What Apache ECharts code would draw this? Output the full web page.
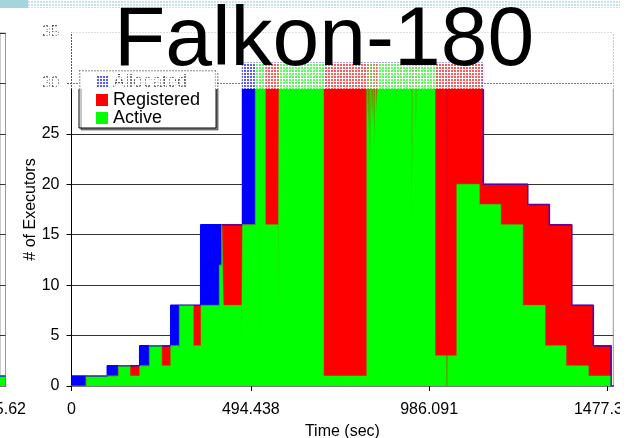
<!DOCTYPE html>
<html>
<head>
<meta charset="utf-8">
<script src="https://cdn.jsdelivr.net/npm/echarts@6/dist/echarts.min.js"></script>
<style>
html, body { margin: 0; padding: 0; background: #fff; }
#main { width: 639px; height: 438px; }
</style>
</head>
<body>
<div id="main"></div>
<script>
// executors over time, step data: [time (sec), # of executors]
const allocated = [
  [0, 1], [98.7, 2], [188, 4], [273.6, 8], [356.3, 16], [471.6, 32],
  [1135.7, 20], [1258, 18], [1317.8, 16], [1379.5, 8], [1439, 4], [1488, 0], [1494, 0]
];
const registered = [
  [0, 0], [40, 1], [129, 2], [214.6, 4], [297.3, 8], [407.6, 12], [414.3, 16],
  [506.9, 32], [1035, 0], [1036.5, 32],
  [1135.7, 20], [1258, 18], [1317.8, 16], [1379.5, 8], [1439, 4], [1488, 0], [1494, 0]
];
const active = [
  [0, 0], [40, 1], [129, 2], [161.3, 1], [188.1, 2], [214.6, 4], [248.8, 2], [273.6, 4],
  [297.3, 8], [335.9, 4], [357, 8], [407.6, 12], [414.3, 16], [418.7, 8], [469, 4],
  [471.6, 16], [506.9, 32], [518, 0], [519, 32], [534.5, 16], [570, 7], [572.3, 32],
  [695, 1], [814.2, 32],
  [818.6, 25], [820.6, 32], [823.3, 22], [825, 32], [829.6, 26], [831.5, 32],
  [835.1, 24], [837, 32], [841.7, 27], [843.5, 32], [853.6, 28], [855.5, 32],
  [872.1, 29], [874, 32], [895, 28], [897, 32], [906, 29], [908, 32],
  [938.3, 16], [940.5, 32], [949.3, 24], [951.5, 32],
  [1002.5, 3], [1035, 0], [1036.5, 3], [1062.4, 20], [1124.7, 18], [1183.7, 16],
  [1244.4, 8], [1305.9, 4], [1363.8, 2], [1425.3, 1], [1487.1, 0], [1494, 0]
];
const xTicks = [0, 494.438, 986.091, 1477.324];
const seriesNames = ['Allocated', 'Registered', 'Active'];
const seriesColors = ['#0000ff', '#ff0000', '#00ff00'];

// tail of the neighbouring chart on the left
const leftAllocated = [[98, 1], [100, 1]];
const leftActive = [[98, 1], [100, 1]];

const FONT = '"Liberation Sans", Arial, sans-serif';

// whitish checker that washes out the top of the slide
const pat = document.createElement('canvas');
pat.width = 3; pat.height = 3;
const pc = pat.getContext('2d');
pc.fillStyle = 'rgba(255,255,255,0.35)';
pc.fillRect(0, 0, 3, 3);
pc.fillStyle = '#fff';
pc.fillRect(0, 0, 3, 1);
pc.fillRect(0, 0, 1, 3);

const chart = echarts.init(document.getElementById('main'));

const stepSeries = (name, data, color, lineWidth) => ({
  name: name,
  type: 'line',
  step: 'end',
  data: data,
  symbol: 'none',
  lineStyle: { color: color, width: lineWidth },
  areaStyle: { color: color, opacity: 1 },
  itemStyle: { color: color }
});

const option = {
  animation: false,
  backgroundColor: '#fff',
  textStyle: { fontFamily: FONT },
  legend: {
    data: seriesNames,
    selectedMode: false,
    orient: 'vertical',
    left: 79,
    top: 70,
    icon: 'rect',
    itemWidth: 12,
    itemHeight: 12,
    itemGap: 0,
    padding: [3, 16, 1, 17],
    borderColor: '#000',
    borderWidth: 1,
    backgroundColor: '#fff',
    shadowColor: 'rgba(0,0,0,0.45)',
    shadowOffsetX: 2,
    shadowOffsetY: 2,
    shadowBlur: 0,
    textStyle: { fontSize: 18, color: '#000', fontFamily: FONT }
  },
  grid: [
    { left: 71.5, right: 25.7, top: 33, bottom: 52, outerBoundsMode: 'none',
      show: true, borderColor: '#999', borderWidth: 1 },
    { left: 0, width: 5.5, top: 33, bottom: 52, outerBoundsMode: 'none',
      show: true, borderColor: '#999', borderWidth: 1 }
  ],
  xAxis: [
    {
      type: 'value',
      min: 0,
      max: 1494,
      axisLine: { lineStyle: { color: '#777', width: 2 } },
      axisTick: { customValues: xTicks, length: 5, lineStyle: { color: '#000' } },
      axisLabel: {
        customValues: xTicks,
        formatter: (v) => String(v),
        fontSize: 16,
        color: '#000',
        margin: 16,
        fontFamily: FONT
      },
      splitLine: { show: false },
      name: 'Time (sec)',
      nameLocation: 'middle',
      nameGap: 38,
      nameMoveOverlap: false,
      nameTextStyle: { fontSize: 16, color: '#000', fontFamily: FONT }
    },
    {
      gridIndex: 1,
      type: 'value',
      min: 98,
      max: 100,
      axisLine: { lineStyle: { color: '#777', width: 2 } },
      axisTick: { show: false },
      axisLabel: { show: false },
      splitLine: { show: false }
    }
  ],
  yAxis: [
    {
      type: 'value',
      min: 0,
      max: 35,
      interval: 5,
      axisLine: { show: true, lineStyle: { color: '#000', width: 1 } },
      axisTick: { show: true, length: 5, lineStyle: { color: '#000' } },
      axisLabel: { fontSize: 16, color: '#000', margin: 12, fontFamily: FONT },
      splitLine: { lineStyle: { color: '#333', width: 1 } },
      name: '# of Executors',
      nameLocation: 'middle',
      nameGap: 33,
      nameMoveOverlap: false,
      nameTextStyle: { fontSize: 16, color: '#000', fontFamily: FONT }
    },
    {
      gridIndex: 1,
      type: 'value',
      min: 0,
      max: 35,
      interval: 5,
      axisLine: { show: false },
      axisTick: { show: false },
      axisLabel: { show: false },
      splitLine: { lineStyle: { color: '#333', width: 1 } }
    }
  ],
  series: [
    stepSeries(seriesNames[0], allocated, seriesColors[0], 1.5),
    stepSeries(seriesNames[1], registered, seriesColors[1], 0.5),
    stepSeries(seriesNames[2], active, seriesColors[2], 0.5),
    Object.assign(stepSeries('prev allocated', leftAllocated, seriesColors[0], 1.5), { xAxisIndex: 1, yAxisIndex: 1 }),
    Object.assign(stepSeries('prev active', leftActive, seriesColors[2], 0.5), { xAxisIndex: 1, yAxisIndex: 1 })
  ],
  graphic: [
    { type: 'rect', z: 40, shape: { x: 0, y: 0, width: 620, height: 8 }, style: { fill: '#a3d5dc' } },
    { type: 'rect', z: 50, shape: { x: 28, y: 0, width: 592, height: 89 },
      style: { fill: { image: pat, repeat: 'repeat' } } },
    { type: 'text', z: 60, style: {
      text: 'Falkon-180', x: 324, y: 0, align: 'center', verticalAlign: 'top',
      font: '84px ' + FONT, fill: '#000' } },
    { type: 'text', z: 60, style: {
      text: '5.62', x: 26, y: 402, align: 'right', verticalAlign: 'top',
      font: '16px ' + FONT, fill: '#000' } },
    { type: 'rect', z: 100, shape: { x: 620, y: 0, width: 19, height: 438 }, style: { fill: '#fff' } }
  ]
};

chart.setOption(option);
</script>
</body>
</html>
